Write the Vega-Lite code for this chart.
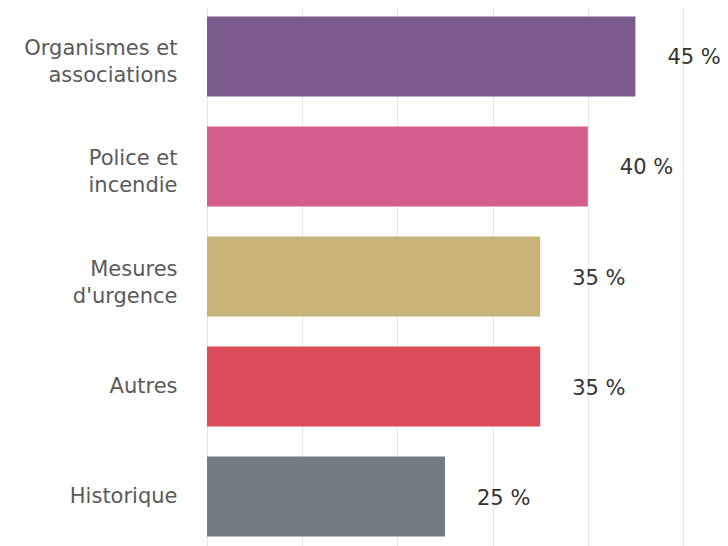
{
  "$schema": "https://vega.github.io/schema/vega-lite/v6.json",
  "autosize": {"type": "none"},
  "padding": {"left": 207, "top": 7, "right": 45, "bottom": 0},
  "width": 476,
  "height": 539,
  "background": "white",
  "config": {"view": {"stroke": null}},
  "data": {
    "values": [
      {"categorie": "Organismes et associations", "pct": 45, "label": "45 %", "color": "#7B5B8D"},
      {"categorie": "Police et incendie", "pct": 40, "label": "40 %", "color": "#D35D8D"},
      {"categorie": "Mesures d'urgence", "pct": 35, "label": "35 %", "color": "#C8B478"},
      {"categorie": "Autres", "pct": 35, "label": "35 %", "color": "#DC4B59"},
      {"categorie": "Historique", "pct": 25, "label": "25 %", "color": "#737C83"}
    ]
  },
  "encoding": {
    "y": {
      "field": "categorie",
      "type": "nominal",
      "sort": null,
      "scale": {"paddingInner": 0.273, "paddingOuter": 0.086},
      "axis": {
        "title": null,
        "domain": false,
        "ticks": false,
        "labelPadding": 30,
        "labelFont": "DejaVu Sans",
        "labelFontSize": 21,
        "labelColor": "#5a5a5a",
        "labelLineHeight": 27,
        "labelLimit": 250,
        "labelOffset": {"condition": {"test": "datum.value == 'Autres' || datum.value == 'Historique'", "value": 0}, "value": -7},
        "labelExpr": "datum.value == 'Organismes et associations' ? ['Organismes et', 'associations'] : datum.value == 'Police et incendie' ? ['Police et', 'incendie'] : datum.value == \"Mesures d'urgence\" ? ['Mesures', \"d'urgence\"] : datum.value"
      }
    },
    "x": {
      "field": "pct",
      "type": "quantitative",
      "scale": {"domain": [0, 50], "nice": false},
      "axis": {
        "title": null,
        "labels": false,
        "ticks": false,
        "domain": false,
        "values": [0, 10, 20, 30, 40, 50],
        "gridColor": "#e6e6e6",
        "gridWidth": 1
      }
    }
  },
  "layer": [
    {
      "mark": {"type": "bar"},
      "encoding": {
        "color": {"field": "color", "type": "nominal", "scale": null}
      }
    },
    {
      "mark": {
        "type": "text",
        "align": "left",
        "baseline": "middle",
        "dx": 32,
        "dy": 2,
        "font": "DejaVu Sans",
        "fontSize": 21,
        "color": "#333333"
      },
      "encoding": {
        "text": {"field": "label", "type": "nominal"}
      }
    }
  ]
}
